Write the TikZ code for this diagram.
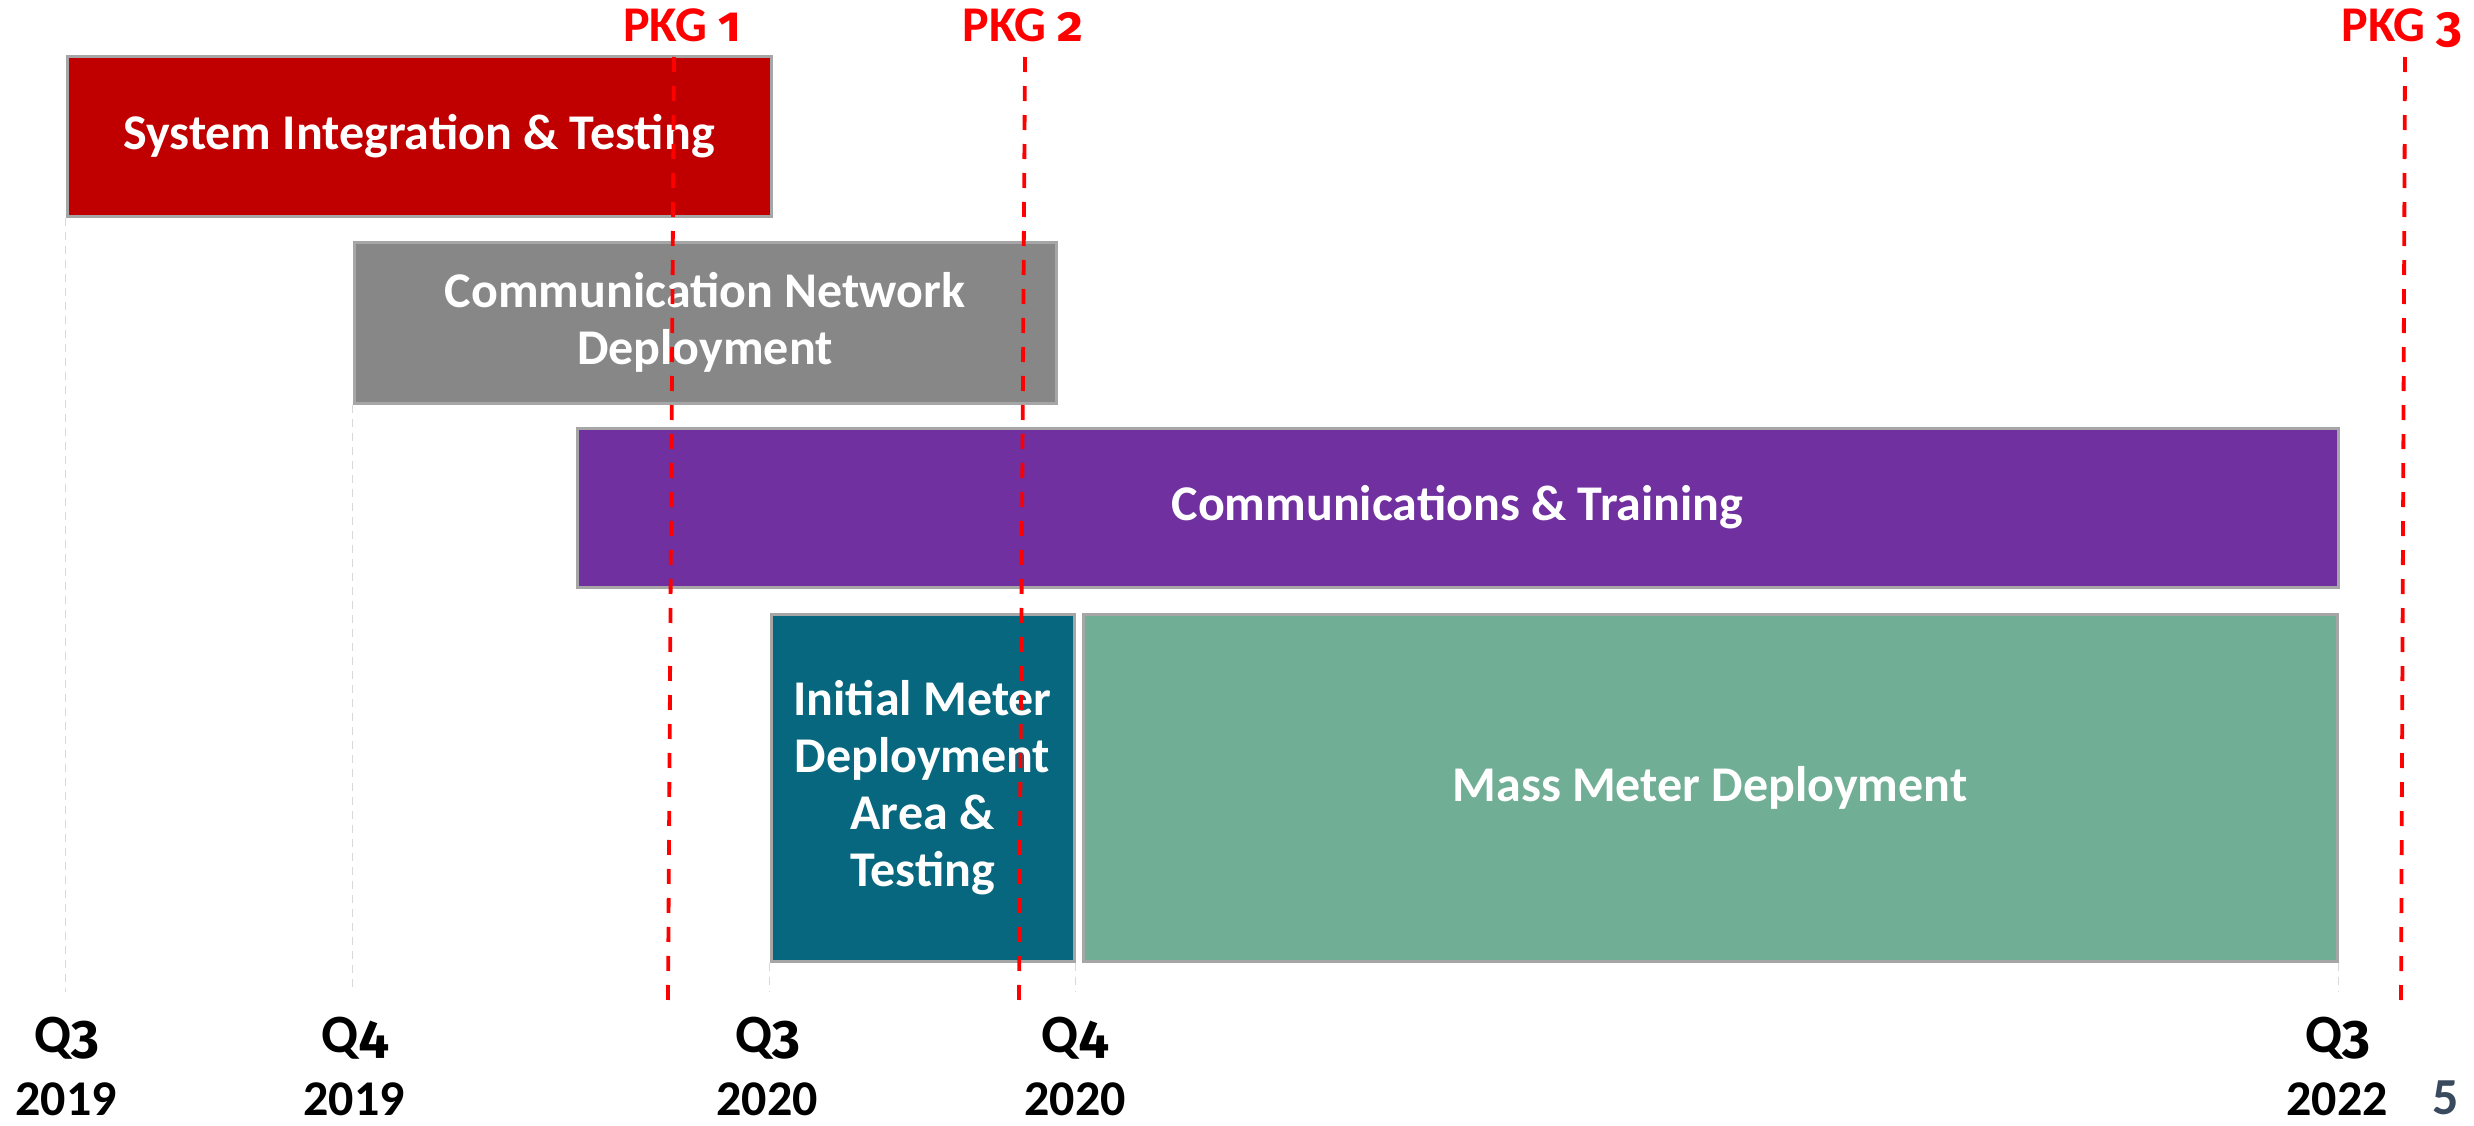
\documentclass[tikz,border=0pt]{standalone}
\usepackage{fontspec}
\setmainfont{Carlito}
\newfontfamily\oldnum{Fira Sans}[Numbers=OldStyle]
\newcommand{\od}[1]{{\oldnum #1}}
\definecolor{boxedge}{HTML}{A6A6A6}
\definecolor{sitred}{HTML}{C00000}
\definecolor{netgray}{HTML}{878787}
\definecolor{commpurple}{HTML}{7030A0}
\definecolor{initteal}{HTML}{07677F}
\definecolor{massgreen}{HTML}{71AE96}
\definecolor{gridgray}{HTML}{D9D9D9}
\definecolor{pagenum}{HTML}{3A4A5E}
\begin{document}
\begin{tikzpicture}[x=0.5pt,y=-0.5pt,
  task/.style={draw=boxedge, line width=1.5pt, inner sep=0pt, text=white,
    font=\bfseries\fontsize{25}{28.5}\selectfont, align=center},
  grid/.style={draw=gridgray, line width=0.8pt, dash pattern=on 4pt off 3pt},
  pkgline/.style={draw=red, line width=1.9pt, dash pattern=on 7.5pt off 7pt},
  pkglabel/.style={text=red, font=\bfseries\fontsize{25}{28}\selectfont, anchor=base, inner sep=0pt},
  qlabel/.style={font=\bfseries\fontsize{27}{30}\selectfont, anchor=base, inner sep=0pt},
  ylabel/.style={font=\bfseries\fontsize{25}{28}\selectfont, anchor=base, inner sep=0pt}]
\useasboundingbox (0,0) rectangle (2474,1125);

% task bars
\node[task, fill=sitred, minimum width=352pt, minimum height=80pt] (sit) at (419,136)
  {System Integration \& Testing};
\node[task, fill=netgray, minimum width=351pt, minimum height=80.5pt] (net) at (705,322.5)
  {Communication Network\\Deployment};
\node[task, fill=commpurple, minimum width=880.5pt, minimum height=79.5pt] (comm) at (1457.5,507.5)
  {Communications \& Training};
\node[task, fill=initteal, minimum width=151.5pt, minimum height=173.5pt] (init) at (922.5,787.5)
  {Initial Meter\\Deployment\\Area \&\\Testing};
\node[task, fill=massgreen, minimum width=627pt, minimum height=173.5pt] (mass) at (1710,787.5)
  {Mass Meter Deployment};

% quarter grid lines
\coordinate (gb) at (0,992);
\draw[grid] (sit.south west) -- (sit.south west |- gb);
\draw[grid] (net.south west) -- (net.south west |- gb);
\draw[grid] (init.south west) -- (init.south west |- gb);
\draw[grid] (init.south east) -- (init.south east |- gb);
\draw[grid] (mass.south east) -- (mass.south east |- gb);

% quarter labels
\node[qlabel] (q1) at (67,1052) {Q\od{3}};
\node[ylabel] (y1) at (66,1115) {2019};
\node[qlabel] (q2) at (355,1052) {Q\od{4}};
\node[ylabel] (y2) at (354,1115) {2019};
\node[qlabel] (q3) at (768,1052) {Q\od{3}};
\node[ylabel] (y3) at (767,1115) {2020};
\node[qlabel] (q4) at (1075,1052) {Q\od{4}};
\node[ylabel] (y4) at (1075,1115) {2020};
\node[qlabel] (q5) at (2338,1052) {Q\od{3}};
\node[ylabel] (y5) at (2337,1115) {2022};
\node[ylabel, text=pagenum, font=\bfseries\fontsize{26}{28}\selectfont] (pg) at (2446,1114) {5};

% package milestones
\coordinate (p1t) at (674,57);   \coordinate (p1b) at (668,1000);
\coordinate (p2t) at (1025,57);  \coordinate (p2b) at (1019,1000);
\coordinate (p3t) at (2405,57);  \coordinate (p3b) at (2401,1000);
\node[pkglabel] (pkg1) at (682,41) {PKG \od{1}};
\node[pkglabel] (pkg2) at (1023,41) {PKG \od{2}};
\node[pkglabel] (pkg3) at (2402,41) {PKG \od{3}};
\draw[pkgline] (p1t) -- (p1b);
\draw[pkgline] (p2t) -- (p2b);
\draw[pkgline] (p3t) -- (p3b);
\end{tikzpicture}
\end{document}
